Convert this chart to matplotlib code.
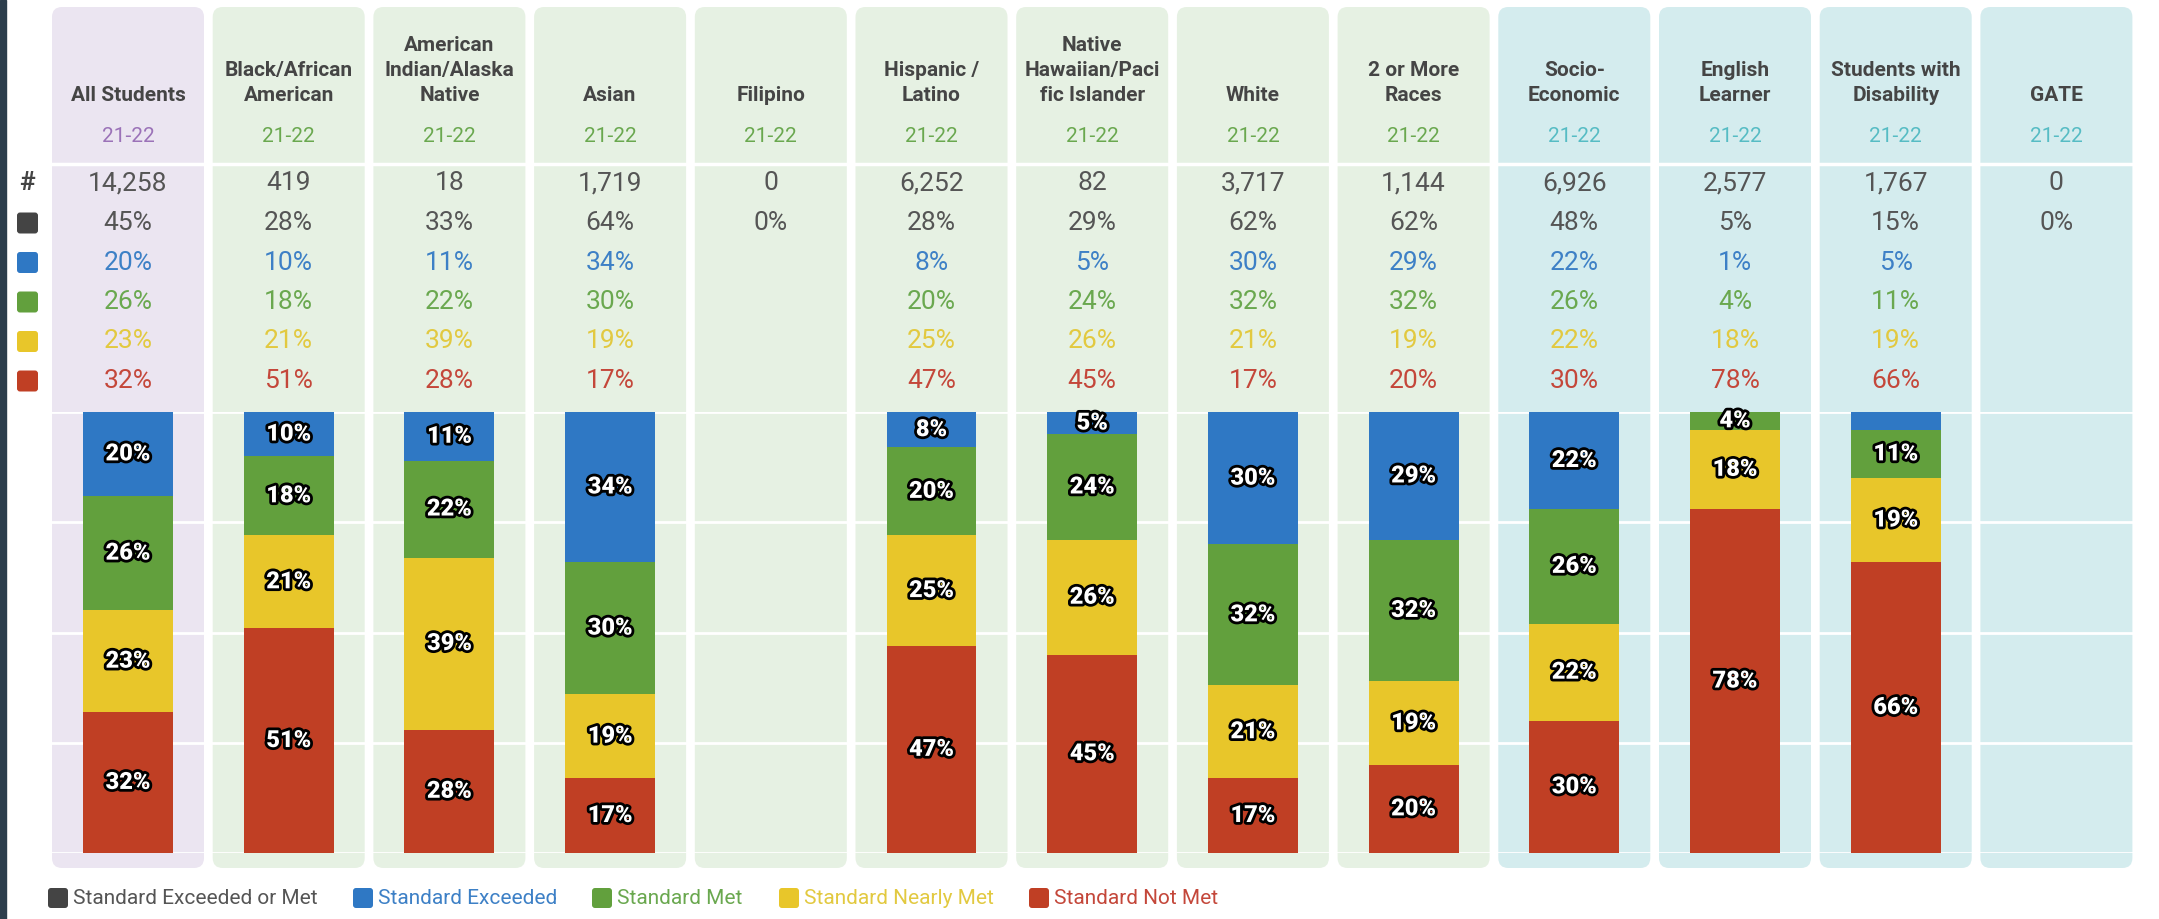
import numpy as np
import matplotlib
matplotlib.use("Agg")
import matplotlib.pyplot as plt
import matplotlib.patheffects as pe
from matplotlib.patches import FancyBboxPatch, Rectangle

plt.rcParams['font.family'] = ['Roboto', 'DejaVu Sans']

groups = ["All Students", "Black/African\nAmerican", "American\nIndian/Alaska\nNative",
          "Asian", "Filipino", "Hispanic /\nLatino", "Native\nHawaiian/Paci\nfic Islander",
          "White", "2 or More\nRaces", "Socio-\nEconomic", "English\nLearner",
          "Students with\nDisability", "GATE"]
kind = ["all"] + ["race"] * 8 + ["program"] * 4
year = "21-22"
counts = [14258, 419, 18, 1719, 0, 6252, 82, 3717, 1144, 6926, 2577, 1767, 0]
nan = np.nan
met_or_exceeded = [45, 28, 33, 64, 0, 28, 29, 62, 62, 48, 5, 15, 0]
exceeded = [20, 10, 11, 34, nan, 8, 5, 30, 29, 22, 1, 5, nan]
met = [26, 18, 22, 30, nan, 20, 24, 32, 32, 26, 4, 11, nan]
nearly_met = [23, 21, 39, 19, nan, 25, 26, 21, 19, 22, 18, 19, nan]
not_met = [32, 51, 28, 17, nan, 47, 45, 17, 20, 30, 78, 66, nan]
# bar segments that carry no label in the original
hidden = {(10, "Standard Exceeded"), (11, "Standard Exceeded")}

series = ["Standard Exceeded or Met", "Standard Exceeded", "Standard Met",
          "Standard Nearly Met", "Standard Not Met"]
bar_col = {"Standard Exceeded or Met": "#444444", "Standard Exceeded": "#2f78c4",
           "Standard Met": "#62a03d", "Standard Nearly Met": "#e8c62a",
           "Standard Not Met": "#c03f24"}
txt_col = {"Standard Exceeded or Met": "#555555", "Standard Exceeded": "#3d80c6",
           "Standard Met": "#6aa84f", "Standard Nearly Met": "#e2c940",
           "Standard Not Met": "#c4473a"}
panel_col = {"all": "#ebe5f1", "race": "#e6f1e3", "program": "#d4ecee"}
year_col = {"all": "#9b72b8", "race": "#6aa84f", "program": "#56bcc4"}

W, H = 2159, 919
x0, pitch = 128, 160.7
fig = plt.figure(figsize=(W / 100, H / 100), dpi=100)
fig.patch.set_facecolor("white")

# background / table axes in pixel coordinates
bg = fig.add_axes([0, 0, 1, 1])
bg.set_xlim(0, W)
bg.set_ylim(H, 0)
bg.axis("off")

n = len(groups)
for i in range(n):
    cx = x0 + pitch * i
    bg.add_patch(FancyBboxPatch((cx - 76 + 10, 7 + 10), 152 - 20, 861 - 20,
                                boxstyle="round,pad=10", fc=panel_col[kind[i]],
                                ec="none", zorder=0))
    bg.text(cx, 101, groups[i], ha="center", va="baseline", fontsize=15,
            fontweight="bold", color="#454545", linespacing=1.4)
    bg.text(cx, 137, year, ha="center", va="center", fontsize=15,
            color=year_col[kind[i]])
    bg.text(cx, 183, f"{counts[i]:,}", ha="center", va="center", fontsize=19,
            color="#555555")
    vals = [met_or_exceeded[i], exceeded[i], met[i], nearly_met[i], not_met[i]]
    for r, (name, v) in enumerate(zip(series, vals)):
        if not np.isnan(v):
            bg.text(cx, 223 + 39.5 * r, f"{v:.0f}%", ha="center", va="center",
                    fontsize=19, color=txt_col[name])

bg.axhline(164, color="white", lw=2.5, zorder=1)
bg.text(27, 183, "#", ha="center", va="center", fontsize=19,
        fontweight="bold", color="#444444")
for r, name in enumerate(series):
    bg.add_patch(FancyBboxPatch((17 + 3, 223 + 39.5 * r - 10.5 + 3), 15, 15,
                                boxstyle="round,pad=3", fc=bar_col[name],
                                ec="none", zorder=2))

# legend
leg_x = [48, 353, 592, 779, 1029]
for lx, name in zip(leg_x, series):
    bg.add_patch(FancyBboxPatch((lx + 3, 898 - 10 + 3), 14, 14,
                                boxstyle="round,pad=3", fc=bar_col[name],
                                ec="none", zorder=2))
    bg.text(lx + 25, 899, name, ha="left", va="center", fontsize=15,
            color=txt_col[name])

# stacked bars
ax = fig.add_axes([0, 1 - 853 / H, 1, 441 / H])
ax.patch.set_alpha(0)
ax.set_xlim(-x0 / pitch, (W - x0) / pitch)
ax.set_ylim(0, 100)
for s in ax.spines.values():
    s.set_visible(False)
ax.set_yticks([0, 25, 50, 75, 100])
ax.set_xticks([])
ax.tick_params(left=False, labelleft=False)
ax.grid(axis="y", color="white", lw=2)
ax.set_axisbelow(True)

xs = np.arange(n)
bottom = np.zeros(n)
stack = [("Standard Not Met", not_met), ("Standard Nearly Met", nearly_met),
         ("Standard Met", met), ("Standard Exceeded", exceeded)]
for name, vals in stack:
    v = np.nan_to_num(np.array(vals, dtype=float))
    ax.bar(xs, v, 0.56, bottom=bottom, color=bar_col[name], zorder=3)
    for i in range(n):
        if v[i] > 0 and (i, name) not in hidden:
            yc = min(bottom[i] + v[i] / 2, (bottom[i] + 100) / 2)
            ax.text(xs[i], yc, f"{v[i]:.0f}%", ha="center", va="center",
                    fontsize=17, fontweight="black", color="white", zorder=4,
                    path_effects=[pe.withStroke(linewidth=4, foreground="black")])
    bottom += v

# dark strip on the left edge, above everything
fig.add_artist(Rectangle((0, 0), 6 / W, 1, transform=fig.transFigure,
                         color="#2c3e4c", zorder=10))

fig.savefig("out.png", dpi=100)
